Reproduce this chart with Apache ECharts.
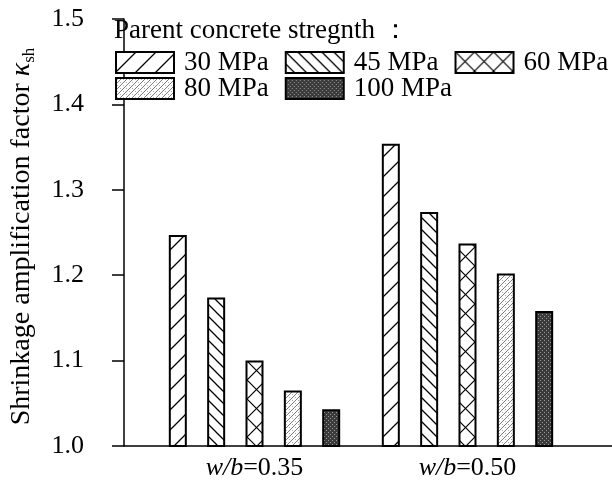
<!DOCTYPE html>
<html>
<head>
<meta charset="utf-8">
<script src="https://cdn.jsdelivr.net/npm/echarts@6/dist/echarts.min.js"></script>
<style>html,body{margin:0;padding:0;background:#fff}#c{width:612px;height:481px}</style>
</head>
<body>
<div id="c"></div>
<script>
const categories = ['w/b=0.35', 'w/b=0.50'];
const seriesNames = ['30 MPa', '45 MPa', '60 MPa', '80 MPa', '100 MPa'];
const s30 = [1.247, 1.354];
const s45 = [1.174, 1.274];
const s60 = [1.100, 1.237];
const s80 = [1.065, 1.202];
const s100 = [1.043, 1.158];
const yMin = 1.0, yMax = 1.5, yStep = 0.1;
const legendTitle = 'Parent concrete stregnth \uFF1A';
const yTitle = 'Shrinkage amplification factor ';

const FONT = '"Liberation Serif", "Times New Roman", serif';

function makePattern(size, draw) {
  const c = document.createElement('canvas');
  c.width = size; c.height = size;
  const ctx = c.getContext('2d');
  ctx.fillStyle = '#fff';
  ctx.fillRect(0, 0, size, size);
  draw(ctx, size);
  return { image: c, repeat: 'repeat' };
}
function slash(ctx, s) {
  ctx.beginPath();
  ctx.moveTo(-1, s + 1); ctx.lineTo(s + 1, -1);
  ctx.moveTo(-1, 1); ctx.lineTo(1, -1);
  ctx.moveTo(s - 1, s + 1); ctx.lineTo(s + 1, s - 1);
  ctx.stroke();
}
function back(ctx, s) {
  ctx.beginPath();
  ctx.moveTo(-1, -1); ctx.lineTo(s + 1, s + 1);
  ctx.moveTo(s - 1, -1); ctx.lineTo(s + 1, 1);
  ctx.moveTo(-1, s - 1); ctx.lineTo(1, s + 1);
  ctx.stroke();
}
const p30 = makePattern(20, (ctx, s) => { ctx.strokeStyle = '#000'; ctx.lineWidth = 1.3; slash(ctx, s); });
const p45 = makePattern(12, (ctx, s) => { ctx.strokeStyle = '#000'; ctx.lineWidth = 1.3; back(ctx, s); });
const p60 = makePattern(19, (ctx, s) => { ctx.strokeStyle = '#000'; ctx.lineWidth = 1.2; slash(ctx, s); back(ctx, s); });
const p80 = makePattern(6, (ctx, s) => {
  ctx.strokeStyle = '#7a7a7a'; ctx.lineWidth = 1; slash(ctx, s);
  ctx.fillStyle = '#b0b0b0'; ctx.fillRect(1, 1, 1, 1); ctx.fillRect(4, 4, 1, 1);
});
const p100 = makePattern(4, (ctx, s) => {
  ctx.fillStyle = '#3a3a3a'; ctx.fillRect(0, 0, s, s);
  ctx.fillStyle = '#9a9a9a'; ctx.fillRect(0, 0, 1, 1); ctx.fillRect(2, 2, 1, 1);
});
const patterns = [p30, p45, p60, p80, p100];
const values = [s30, s45, s60, s80, s100];

const chart = echarts.init(document.getElementById('c'), null, { renderer: 'canvas' });

const series = seriesNames.map((name, i) => ({
  name: name,
  type: 'bar',
  xAxisIndex: 1,
  yAxisIndex: 1,
  data: values[i],
  barWidth: 18,
  barGap: '113%',
  itemStyle: { color: patterns[i], borderColor: '#000', borderWidth: 2 },
  emphasis: { disabled: true },
  animation: false
}));

const legendCommon = {
  left: 115,
  width: 497,
  padding: 0,
  itemWidth: 58,
  itemHeight: 21,
  itemGap: 16,
  icon: 'rect',
  selectedMode: false,
  textStyle: { fontFamily: FONT, fontSize: 27, color: '#000', lineHeight: 21, padding: [0, 0, 0, 5] }
};

chart.setOption({
  animation: false,
  backgroundColor: '#fff',
  title: {
    text: legendTitle,
    left: 114,
    top: 17,
    padding: 0,
    textStyle: { fontFamily: FONT, fontSize: 27, fontWeight: 'normal', color: '#000' }
  },
  legend: [
    Object.assign({ top: 49, data: seriesNames.slice(0, 3) }, legendCommon),
    Object.assign({ top: 75, data: seriesNames.slice(3) }, legendCommon)
  ],
  grid: [
    { left: 107, right: 0, top: 19, bottom: 35 },
    { left: 148, right: 38, top: 19, bottom: 35 }
  ],
  xAxis: [
    {
      gridIndex: 0, type: 'value', min: 0, max: 1,
      axisLine: { show: true, onZero: false, lineStyle: { color: '#000', width: 1.5 } },
      axisTick: { show: false }, axisLabel: { show: false }, splitLine: { show: false }
    },
    {
      gridIndex: 1, type: 'category', data: categories,
      axisLine: { show: false }, axisTick: { show: false }, splitLine: { show: false },
      axisLabel: {
        margin: 9,
        formatter: v => { const p = v.split('='); return '{i|' + p[0] + '}{n|=' + p[1] + '}'; },
        rich: {
          i: { fontFamily: FONT, fontSize: 26, fontStyle: 'italic', color: '#000' },
          n: { fontFamily: FONT, fontSize: 26, color: '#000' }
        }
      }
    }
  ],
  yAxis: [
    {
      gridIndex: 0, type: 'value', min: yMin, max: yMax, interval: yStep,
      axisLine: { show: true, lineStyle: { color: '#000', width: 1.5 } },
      axisTick: { show: true, inside: false, length: 12, lineStyle: { color: '#000', width: 1.5 } },
      splitLine: { show: false },
      axisLabel: {
        margin: 40, fontFamily: FONT, fontSize: 26, color: '#000',
        formatter: v => v.toFixed(1)
      },
      name: '{n|' + yTitle + '}{k|\u03BA}{s|sh}',
      nameLocation: 'middle',
      nameGap: 86,
      nameTextStyle: {
        padding: [0, 8, 0, 0],
        rich: {
          n: { fontFamily: FONT, fontSize: 28, color: '#000', lineHeight: 32 },
          k: { fontFamily: FONT, fontSize: 28, fontStyle: 'italic', color: '#000', lineHeight: 32 },
          s: { fontFamily: FONT, fontSize: 17, color: '#000', verticalAlign: 'bottom', lineHeight: 32 }
        }
      }
    },
    {
      gridIndex: 1, type: 'value', min: yMin, max: yMax, show: false,
      splitLine: { show: false }
    }
  ],
  series: series
});
</script>
</body>
</html>
